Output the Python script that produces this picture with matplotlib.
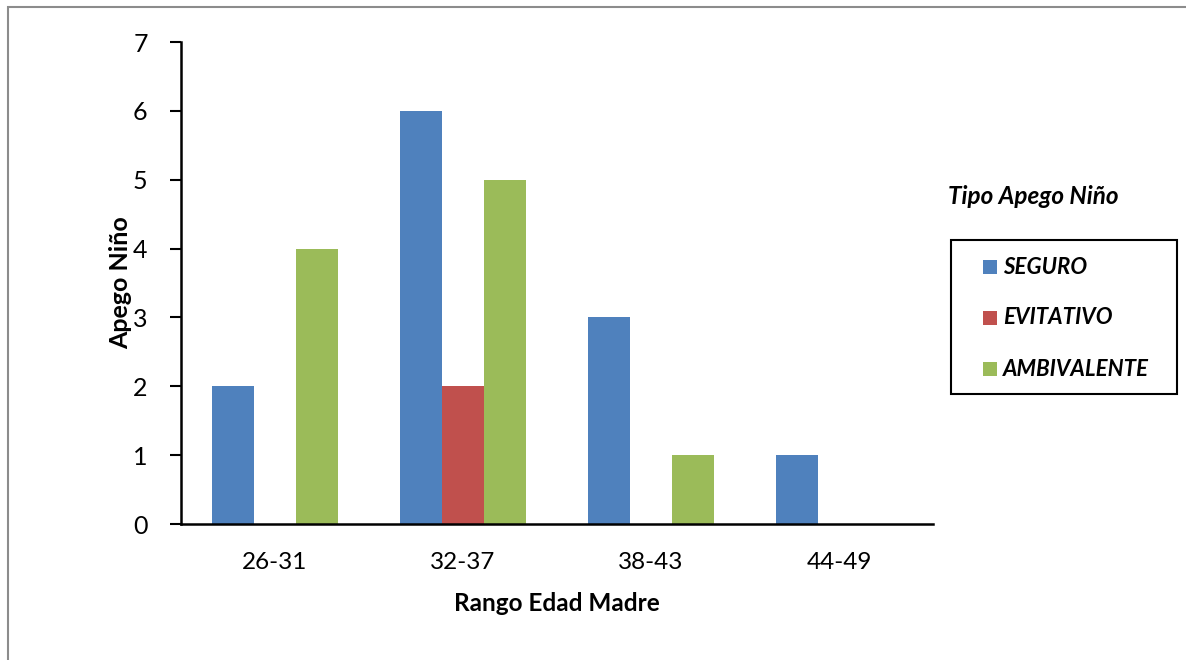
import matplotlib
matplotlib.use("Agg")
import matplotlib.pyplot as plt
from matplotlib.patches import Rectangle
import numpy as np

plt.rcParams['font.family'] = ['Lato', 'DejaVu Sans']

categories = ["26-31", "32-37", "38-43", "44-49"]
series_names = ["SEGURO", "EVITATIVO", "AMBIVALENTE"]
seguro = [2, 6, 3, 1]
evitativo = [0, 2, 0, 0]
ambivalente = [4, 5, 1, 0]
colors = ["#4F81BD", "#C0504D", "#9BBB59"]
yticks = [0, 1, 2, 3, 4, 5, 6, 7]

W, H = 1186, 660
fig = plt.figure(figsize=(W / 100, H / 100), dpi=100)
fig.patch.set_facecolor("white")


def fx(px):
    return px / W


def fy(py):
    return 1 - py / H


# outer chart frame
fig.patches.append(Rectangle((fx(8), -0.05), 1.2, fy(7) + 0.05,
                             transform=fig.transFigure, fill=False,
                             edgecolor="#8c8c8c", linewidth=1.5))

ax = fig.add_axes([fx(181), fy(524), fx(933 - 181), (524 - 42) / H])

x = np.arange(len(categories))
bw = 0.223
for i, (vals, c) in enumerate(zip([seguro, evitativo, ambivalente], colors)):
    ax.bar(x + (i - 1) * bw, vals, width=bw, color=c, edgecolor="none")

ax.set_xlim(-0.5, len(categories) - 0.5)
ax.set_ylim(0, 7)
ax.set_yticks(yticks)
ax.set_xticks(x)
ax.set_xticklabels(categories)
for s in ["top", "right"]:
    ax.spines[s].set_visible(False)
for s in ["left", "bottom"]:
    ax.spines[s].set_linewidth(1.8)
ax.tick_params(axis="y", direction="out", length=8, width=1.5, labelsize=18, pad=16)
ax.tick_params(axis="x", length=0, labelsize=17.5, pad=20)

ax.set_xlabel("Rango Edad Madre", fontsize=17.5, fontweight="bold", labelpad=14)
ax.set_ylabel("Apego Niño", fontsize=18, fontweight="bold", labelpad=1)

# legend: title, frame, swatches and labels
fig.text(fx(948), fy(196), "Tipo Apego Niño", fontsize=17.5, fontweight="bold",
         fontstyle="italic", va="center", ha="left")
fig.patches.append(Rectangle((fx(951), fy(394)), fx(1177 - 951), (394 - 240) / H,
                             transform=fig.transFigure, fill=False,
                             edgecolor="black", linewidth=1.5))
row_y = [267, 318, 369]
for name, c, ry in zip(series_names, colors, row_y):
    fig.patches.append(Rectangle((fx(983), fy(ry + 7)), fx(14), 14 / H,
                                 transform=fig.transFigure, facecolor=c,
                                 edgecolor="none"))
    fig.text(fx(1003), fy(ry), name, fontsize=16, fontweight="bold",
             fontstyle="italic", va="center", ha="left")

fig.savefig("out.png", dpi=100)
